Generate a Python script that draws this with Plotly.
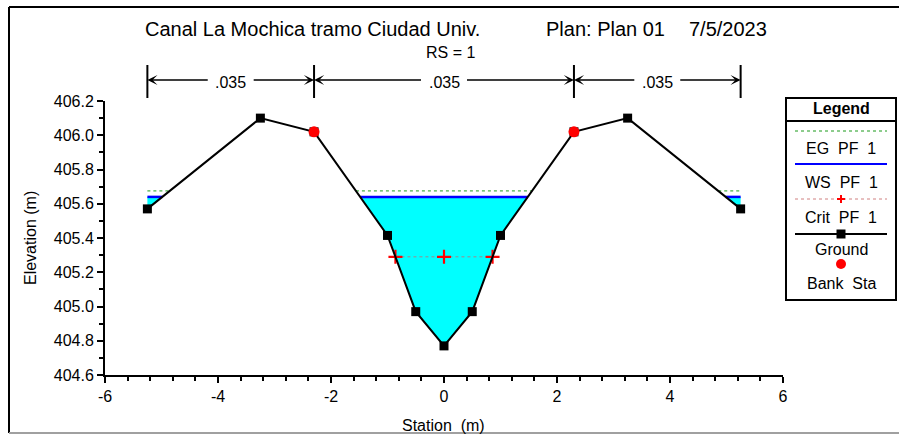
import plotly.graph_objects as go

# ---------------- data ----------------
station = [-5.25, -3.25, -2.3, -1.0, -0.5, 0.0, 0.5, 1.0, 2.3, 3.25, 5.25]
elevation = [405.57, 406.10, 406.02, 405.415, 404.97, 404.77, 404.97, 405.415, 406.02, 406.10, 405.57]
bank_sta = [-2.3, 2.3]
ws_pf1 = 405.64
eg_pf1 = 405.675
crit_pf1 = 405.29
n_breaks = [-5.25, -2.3, 2.3, 5.25]
n_values = [".035", ".035", ".035"]
x_ticks = [-6, -4, -2, 0, 2, 4, 6]
y_ticks = [404.6, 404.8, 405.0, 405.2, 405.4, 405.6, 405.8, 406.0, 406.2]

# ---------------- layout geometry ----------------
W, H = 900, 436
L, R, T, B = 105, 783, 101, 375


def px(xp):
    return (xp - L) / (R - L)


def py(yp):
    return (B - yp) / (B - T)


def wet_pieces(xs, zs, level):
    pieces, cur = [], None
    n = len(xs)
    for i in range(n):
        if zs[i] < level:
            if cur is None:
                cur = [(xs[i], level)]
            cur.append((xs[i], zs[i]))
        if i < n - 1:
            z0, z1 = zs[i], zs[i + 1]
            if (z0 < level) != (z1 < level):
                xc = xs[i] + (level - z0) * (xs[i + 1] - xs[i]) / (z1 - z0)
                if z0 < level:
                    cur.append((xc, level))
                    pieces.append(cur)
                    cur = None
                else:
                    cur = [(xc, level)]
    if cur is not None:
        cur.append((xs[-1], level))
        pieces.append(cur)
    return pieces


fig = go.Figure()

# water fill
fx, fy = [], []
for p in wet_pieces(station, elevation, ws_pf1):
    fx += [q[0] for q in p] + [None]
    fy += [q[1] for q in p] + [None]
fig.add_trace(go.Scatter(x=fx, y=fy, fill="toself", fillcolor="#00FFFF",
                         mode="lines", line=dict(width=0, color="#00FFFF"),
                         hoverinfo="skip", showlegend=False))


def level_line(level):
    lx, ly = [], []
    for p in wet_pieces(station, elevation, level):
        lx += [p[0][0], p[-1][0], None]
        ly += [level, level, None]
    return lx, ly


ex, ey = level_line(eg_pf1)
fig.add_trace(go.Scatter(x=ex, y=ey, mode="lines",
                         line=dict(color="#1a9a1a", width=1, dash="dot"),
                         name="EG PF 1", showlegend=False))
wx, wy = level_line(ws_pf1)
fig.add_trace(go.Scatter(x=wx, y=wy, mode="lines",
                         line=dict(color="#0000FF", width=2.5),
                         name="WS PF 1", showlegend=False))

cx, cy = [], []
for p in wet_pieces(station, elevation, crit_pf1):
    a, b = p[0][0], p[-1][0]
    cx += [a, (a + b) / 2, b, None]
    cy += [crit_pf1] * 3 + [None]
fig.add_trace(go.Scatter(x=cx, y=cy, mode="lines+markers",
                         line=dict(color="#a08888", width=1, dash="dot"),
                         marker=dict(symbol="cross-thin", size=10,
                                     line=dict(color="#FF0000", width=2.2)),
                         name="Crit PF 1", showlegend=False))

fig.add_trace(go.Scatter(x=station, y=elevation, mode="lines+markers",
                         line=dict(color="black", width=2),
                         marker=dict(symbol="square", size=9, color="black"),
                         name="Ground", showlegend=False))

bank_z = [elevation[station.index(b)] for b in bank_sta]
fig.add_trace(go.Scatter(x=bank_sta, y=bank_z, mode="markers",
                         marker=dict(symbol="circle", size=11, color="#FF0000"),
                         name="Bank Sta", showlegend=False))

shapes = []
annotations = []


def note(x, y, text, size, xref="paper", xanchor="center", **kw):
    d = dict(x=x, y=y, xref=xref, yref="paper", text=text, showarrow=False,
             xanchor=xanchor, yanchor="middle",
             font=dict(size=size, color="black", family="Liberation Sans, Arial"))
    d.update(kw)
    return d


# n-value dimension arrows
tick_top, tick_bot, arrow_y, text_y = py(65), py(98), py(80), py(82)
for xb in n_breaks:
    shapes.append(dict(type="line", xref="x", yref="paper", x0=xb, x1=xb,
                       y0=tick_bot, y1=tick_top, line=dict(color="black", width=2)))
half_gap = 0.38
for i, lab in enumerate(n_values):
    a, b = n_breaks[i], n_breaks[i + 1]
    m = (a + b) / 2
    annotations.append(note(m, text_y, lab, 16, xref="x"))
    for tip, tail in ((a, m - half_gap), (b, m + half_gap)):
        annotations.append(dict(x=tip, y=arrow_y, xref="x", yref="paper",
                                ax=tail, ay=0, axref="x", ayref="pixel",
                                text="", showarrow=True, arrowhead=3,
                                arrowsize=1.3, arrowwidth=1.3,
                                arrowcolor="black", standoff=0, startstandoff=0))

# titles
annotations += [
    note(px(143), py(29), "Canal La Mochica tramo Ciudad Univ.", 20, xanchor="left"),
    note(px(544), py(29), "Plan: Plan 01", 20, xanchor="left"),
    note(px(687), py(29), "7/5/2023", 20, xanchor="left"),
    note(px(450), py(52), "RS = 1", 16),
    note(px(30), 0.5, "Elevation (m)", 16, textangle=-90),
    note(px(443), py(425), "Station  (m)", 16),
]

# legend box (drawn)
lx0, lx1 = px(786), px(896)
shapes.append(dict(type="rect", xref="paper", yref="paper", x0=lx0, x1=lx1,
                   y0=py(300), y1=py(98), line=dict(color="black", width=2),
                   fillcolor="rgba(0,0,0,0)"))
shapes.append(dict(type="line", xref="paper", yref="paper", x0=lx0, x1=lx1,
                   y0=py(121), y1=py(121), line=dict(color="black", width=2)))
annotations.append(note(px(841), py(109), "<b>Legend</b>", 16))
sx0, sx1, scx = px(795), px(887), px(841)
shapes.append(dict(type="line", xref="paper", yref="paper", x0=sx0, x1=sx1,
                   y0=py(131), y1=py(131), line=dict(color="#1a9a1a", width=1, dash="dot")))
shapes.append(dict(type="line", xref="paper", yref="paper", x0=sx0, x1=sx1,
                   y0=py(164), y1=py(164), line=dict(color="#0000FF", width=2)))
shapes.append(dict(type="line", xref="paper", yref="paper", x0=sx0, x1=sx1,
                   y0=py(199), y1=py(199), line=dict(color="#d08080", width=1, dash="dot")))
for (x0, x1, y0, y1) in ((-4, 4, 0, 0), (0, 0, -4, 4)):
    shapes.append(dict(type="line", xref="paper", yref="paper",
                       xsizemode="pixel", ysizemode="pixel",
                       xanchor=scx, yanchor=py(199), x0=x0, x1=x1, y0=y0, y1=y1,
                       line=dict(color="#FF0000", width=2)))
shapes.append(dict(type="line", xref="paper", yref="paper", x0=sx0, x1=sx1,
                   y0=py(234), y1=py(234), line=dict(color="black", width=2)))
shapes.append(dict(type="rect", xref="paper", yref="paper",
                   xsizemode="pixel", ysizemode="pixel", xanchor=scx, yanchor=py(234),
                   x0=-4.5, x1=4.5, y0=-4.5, y1=4.5, fillcolor="black",
                   line=dict(color="black", width=0)))
shapes.append(dict(type="circle", xref="paper", yref="paper",
                   xsizemode="pixel", ysizemode="pixel", xanchor=scx, yanchor=py(264),
                   x0=-5, x1=5, y0=-5, y1=5, fillcolor="#FF0000",
                   line=dict(color="#FF0000", width=0)))
for lab, yy in (("EG  PF  1", 148), ("WS  PF  1", 182), ("Crit  PF  1", 217),
                ("Ground", 249), ("Bank  Sta", 283)):
    annotations.append(note(scx, py(yy), lab, 16))

# outer frame
fl, fr, ft, fb = px(9), px(899), py(7), py(433)
shapes += [
    dict(type="line", xref="paper", yref="paper", x0=fl, x1=fr, y0=ft, y1=ft,
         line=dict(color="black", width=2)),
    dict(type="line", xref="paper", yref="paper", x0=fl, x1=fl, y0=fb, y1=ft,
         line=dict(color="black", width=2)),
    dict(type="line", xref="paper", yref="paper", x0=fl, x1=fr, y0=fb, y1=fb,
         line=dict(color="#a0a0a0", width=2)),
]

fig.update_layout(
    width=W, height=H,
    margin=dict(l=L, r=W - R, t=T, b=H - B, pad=0),
    paper_bgcolor="white", plot_bgcolor="white",
    font=dict(family="Liberation Sans, Arial, sans-serif", color="black"),
    showlegend=False,
    shapes=shapes, annotations=annotations,
    xaxis=dict(range=[-6, 6], tickvals=x_ticks, ticktext=[str(v) for v in x_ticks],
               showgrid=False, zeroline=False, showline=True, linecolor="black",
               linewidth=2, ticks="outside", ticklen=6, tickwidth=1.5,
               tickcolor="black", tickfont=dict(size=16),
               minor=dict(dtick=0.4, tick0=-6, ticks="outside", ticklen=4,
                          tickcolor="black", tickwidth=1.5)),
    yaxis=dict(range=[404.6, 406.2], tickvals=y_ticks,
               ticktext=[f"{v:.1f}" for v in y_ticks],
               showgrid=False, zeroline=False, showline=True, linecolor="black",
               linewidth=2, ticks="outside", ticklen=6, tickwidth=1.5,
               tickcolor="black", tickfont=dict(size=16),
               minor=dict(dtick=0.1, tick0=404.6, ticks="outside", ticklen=4,
                          tickcolor="black", tickwidth=1.5)),
)

fig.write_html("out.html", config={"displayModeBar": False},
               post_script="document.body.style.margin='0';document.body.style.overflow='hidden';")
